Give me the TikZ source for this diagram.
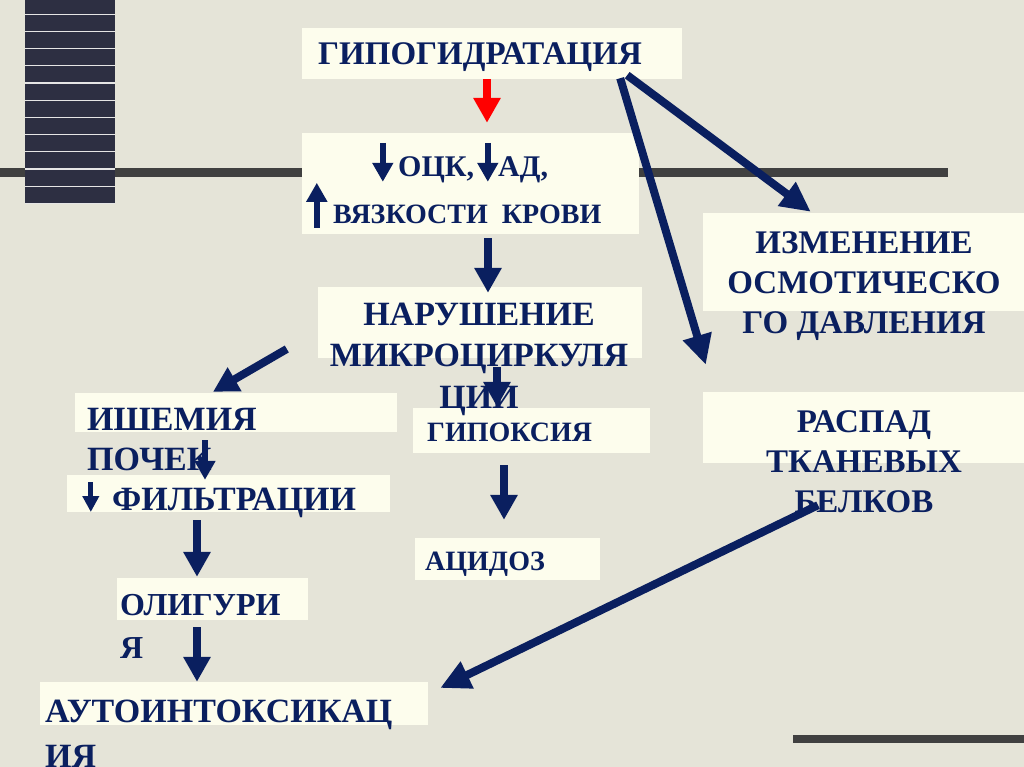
\documentclass[tikz,border=0pt]{standalone}
\usepackage{fontspec}
\setmainfont{Liberation Serif}
\usetikzlibrary{arrows.meta,calc,fit}
\definecolor{navy}{RGB}{10,31,95}
\definecolor{paper}{RGB}{229,228,216}
\definecolor{ivory}{RGB}{253,253,237}
\definecolor{bargray}{RGB}{64,64,64}
\definecolor{blockcol}{RGB}{45,47,66}
\begin{document}
\begin{tikzpicture}[x=1pt,y=-1pt,
  box/.style={fill=ivory,draw=none,inner sep=0pt},
  txt/.style={text=navy,inner sep=0pt},
  fbig/.style={font=\bfseries\fontsize{34}{41.5}\selectfont},
  fmid/.style={font=\bfseries\fontsize{33}{40}\selectfont},
  fsmall/.style={font=\bfseries\fontsize{28}{34}\selectfont},
  arr/.style={draw=navy,line width=8pt,-{Triangle[width=26pt,length=25pt]}},
  longarr/.style={draw=navy,line width=8pt,-{Triangle[width=28pt,length=30pt]}},
  smallarr/.style={draw=navy,line width=6pt,-{Triangle[width=20pt,length=19pt]}}]
 \useasboundingbox (0,0) rectangle (1024,767);
 \fill[paper] (0,0) rectangle (1024,767);
 % bars and the striped block
 \draw[bargray,line width=8.5pt] (0,172.5) -- (948,172.5);
 \draw[bargray,line width=8pt] (793,739) -- (1024,739);
 \fill[blockcol] (25,0) rectangle (115,203);
 \foreach \k in {0,...,11}
  \draw[white!80!gray,line width=1.2pt] (25,14.3+17.2*\k) -- (115,14.3+17.2*\k);
 % boxes
 \node[box,fit={(302,28) (682,79)}] (hypobox) {};
 \node[box,fit={(302,133) (639,234)}] (ockbox) {};
 \node[box,fit={(318,287) (642,358)}] (narbox) {};
 \node[box,fit={(75,393) (397,432)}] (ishbox) {};
 \node[box,fit={(67,475) (390,512)}] (filbox) {};
 \node[box,fit={(413,408) (650,453)}] (hypoxbox) {};
 \node[box,fit={(415,538) (600,580)}] (acidbox) {};
 \node[box,fit={(117,578) (308,620)}] (oligbox) {};
 \node[box,fit={(40,682) (428,725)}] (autobox) {};
 \node[box,fit={(703,213) (1024,311)}] (izmbox) {};
 \node[box,fit={(703,392) (1024,463)}] (raspbox) {};
 % texts (multi-line ones sit on the baseline of their last line)
 \node[txt,font=\bfseries\fontsize{33}{40}\selectfont,anchor=base] (hypo) at (480,65) {ГИПОГИДРАТАЦИЯ};
 \node[txt,font=\bfseries\fontsize{30}{36}\selectfont,anchor=base west] (ock) at (398,177) {ОЦК,};
 \node[txt,font=\bfseries\fontsize{30}{36}\selectfont,anchor=base west] (ad) at (498,177) {АД,};
 \node[txt,fsmall,anchor=base west] (visc) at (333,223) {ВЯЗКОСТИ\ \ КРОВИ};
 \node[txt,fbig,anchor=base,align=center] (nar) at (479,408) {НАРУШЕНИЕ\\МИКРОЦИРКУЛЯ\\ЦИИ};
 \node[txt,font=\bfseries\fontsize{34}{40.5}\selectfont,anchor=base west,align=left] (ish) at (87,470.5) {ИШЕМИЯ\\ПОЧЕК};
 \node[txt,fbig,anchor=base west] (fil) at (112,510) {ФИЛЬТРАЦИИ};
 \node[txt,fsmall,anchor=base west] (hypox) at (427,441) {ГИПОКСИЯ};
 \node[txt,fsmall,anchor=base west] (acid) at (425,570) {АЦИДОЗ};
 \node[txt,font=\bfseries\fontsize{32}{43}\selectfont,anchor=base west,align=left] (olig) at (120,658) {ОЛИГУРИ\\Я};
 \node[txt,font=\bfseries\fontsize{34}{45}\selectfont,anchor=base west,align=left] (auto) at (45,767) {АУТОИНТОКСИКАЦ\\ИЯ};
 \node[txt,fmid,anchor=base,align=center] (izm) at (864,333) {ИЗМЕНЕНИЕ\\ОСМОТИЧЕСКО\\ГО ДАВЛЕНИЯ};
 \node[txt,fmid,anchor=base,align=center] (rasp) at (864,512) {РАСПАД\\ТКАНЕВЫХ\\БЕЛКОВ};
 % small arrows inside the texts
 \draw[smallarr] ($(ockbox.north west)+(81,10)$) -- ($(ockbox.north west)+(81,49)$);
 \draw[smallarr] ($(ockbox.north west)+(186,10)$) -- ($(ockbox.north west)+(186,49)$);
 \draw[smallarr] ($(ockbox.north west)+(15,95)$) -- ($(ockbox.north west)+(15,50)$);
 \draw[smallarr] ($(ishbox.south)+(-31,8)$) -- ($(filbox.north)+(-23.5,5)$);
 \draw[draw=navy,line width=5pt,-{Triangle[width=16pt,length=16pt]}] ($(filbox.west)+(24,-11.5)$) -- ($(filbox.west)+(24,18.5)$);
 % connectors
 \draw[arr,draw=red] ($(hypobox.south)+(-5,0)$) -- ($(ockbox.north)+(16.5,-10)$);
 \draw[arr] ($(ockbox.south)+(17.5,4)$) -- ($(narbox.north)+(8,6)$);
 \draw[arr] ($(narbox.west)+(-31,26.5)$) -- ($(ishbox.north)+(-23,-1)$);
 \draw[arr] ($(narbox.south)+(17,9)$) -- ($(hypoxbox.north)+(-34.5,-1)$);
 \draw[arr] ($(hypoxbox.south)+(-27.5,12)$) -- ($(acidbox.north)+(-3.5,-18)$);
 \draw[arr] ($(filbox.south)+(-31.5,8)$) -- ($(oligbox.north)+(-15.5,-1)$);
 \draw[arr] ($(oligbox.south)+(-15.5,7)$) -- ($(autobox.north)+(-37,0)$);
 \draw[longarr] ($(hypobox.south east)+(-55,-4)$) -- ($(izmbox.north west)+(108,-1)$);
 \draw[longarr] ($(hypobox.south east)+(-62,-1)$) -- ($(raspbox.north west)+(3,-27)$);
 \draw[longarr] ($(raspbox.south)+(-45.5,42)$) -- ($(autobox.east)+(12,-15.5)$);
\end{tikzpicture}
\end{document}
